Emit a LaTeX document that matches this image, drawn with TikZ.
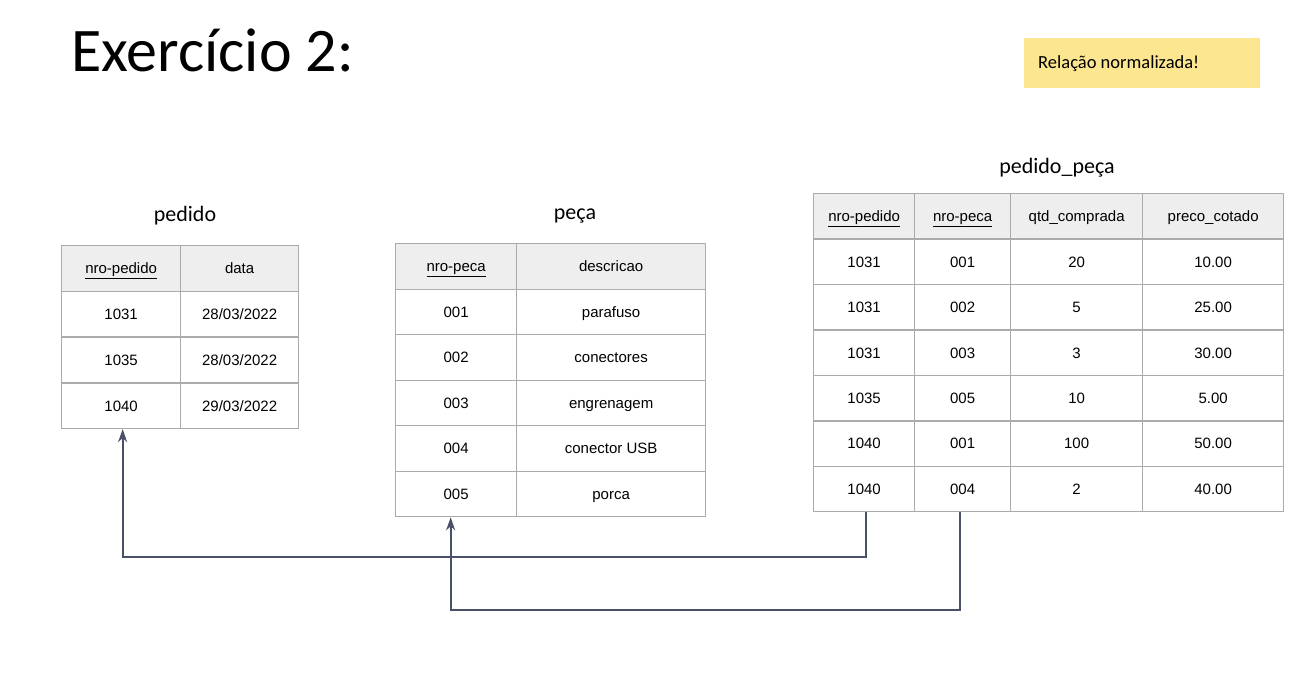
\documentclass[tikz,border=0pt]{standalone}
\usepackage{fontspec}
\setmainfont{Carlito}
\newfontfamily\arial{Liberation Sans}
\usetikzlibrary{arrows.meta}
\definecolor{grid}{HTML}{ABABAB}
\definecolor{headfill}{HTML}{EEEEEE}
\definecolor{note}{HTML}{FCE690}
\definecolor{link}{HTML}{4A5068}
\begin{document}
\begin{tikzpicture}[x=1pt,y=-1pt,
  cell/.style={draw=grid, line width=1.3pt, anchor=north west, inner sep=0pt,
    text height=12.5pt, text depth=1.7pt,
    minimum height=45.5pt, font=\arial\fontsize{15}{18}\selectfont},
  head/.style={cell, fill=headfill},
  title/.style={anchor=base, font=\fontsize{22}{26}\selectfont},
  fk/.style={draw=link, line width=1.8pt, -{Stealth[length=13pt,width=9pt,inset=4pt]}}]
  \useasboundingbox (0,0) rectangle (1307,687);

  % Title and note
  \node[anchor=base west, inner sep=0pt, font=\fontsize{62}{72}\selectfont] (ex) at (71,72) {Exercício 2:};
  \node[fill=note, minimum width=236pt, minimum height=50pt, anchor=north west, inner sep=0pt] (nota) at (1024,38) {};
  \node[anchor=base west, inner sep=0pt, font=\fontsize{18.5}{22}\selectfont] (notatxt) at (1038,69) {Relação normalizada!};

  % Table pedido
  \node[title] (tpd) at (185,222) {pedido};
  \node[head, minimum width=119pt] (pd-0-1) at (61,245) {\underline{nro-pedido}};
  \node[head, minimum width=118pt] (pd-0-2) at (180,245) {data};
  \foreach \a/\b [count=\i] in {1031/{28/03/2022},1035/{28/03/2022},1040/{29/03/2022}} {
    \node[cell, minimum width=119pt] (pd-\i-1) at (61,{245+\i*45.75}) {\a};
    \node[cell, minimum width=118pt] (pd-\i-2) at (180,{245+\i*45.75}) {\b};
  }

  % Table peca
  \node[title] (tpc) at (575,220) {peça};
  \node[head, minimum width=121pt] (pc-0-1) at (395,243) {\underline{nro-peca}};
  \node[head, minimum width=189pt] (pc-0-2) at (516,243) {descricao};
  \foreach \a/\b [count=\i] in {001/parafuso,002/conectores,003/engrenagem,004/conector USB,005/porca} {
    \node[cell, minimum width=121pt] (pc-\i-1) at (395,{243+\i*45.5}) {\a};
    \node[cell, minimum width=189pt] (pc-\i-2) at (516,{243+\i*45.5}) {\b};
  }

  % Table pedido_peca
  \node[title] (tpp) at (1057,174) {pedido\_peça};
  \node[head, minimum width=101pt] (pp-0-1) at (813,193) {\underline{nro-pedido}};
  \node[head, minimum width=96pt] (pp-0-2) at (914,193) {\underline{nro-peca}};
  \node[head, minimum width=132pt] (pp-0-3) at (1010,193) {qtd\_comprada};
  \node[head, minimum width=141pt] (pp-0-4) at (1142,193) {preco\_cotado};
  \foreach \a/\b/\c/\d [count=\i] in {1031/001/20/10.00,1031/002/5/25.00,1031/003/3/30.00,
      1035/005/10/5.00,1040/001/100/50.00,1040/004/2/40.00} {
    \node[cell, minimum width=101pt] (pp-\i-1) at (813,{193+\i*45.43}) {\a};
    \node[cell, minimum width=96pt] (pp-\i-2) at (914,{193+\i*45.43}) {\b};
    \node[cell, minimum width=132pt] (pp-\i-3) at (1010,{193+\i*45.43}) {\c};
    \node[cell, minimum width=141pt] (pp-\i-4) at (1142,{193+\i*45.43}) {\d};
  }

  % Foreign keys
  \draw[fk] ([xshift=1.5]pp-6-1.south) -- ++(0,45) -| ([xshift=1.5]pd-3-1.south);
  \draw[fk] ([xshift=-3]pp-6-2.south) -- ++(0,98) -| ([xshift=-5.5]pc-5-1.south);

\end{tikzpicture}
\end{document}
